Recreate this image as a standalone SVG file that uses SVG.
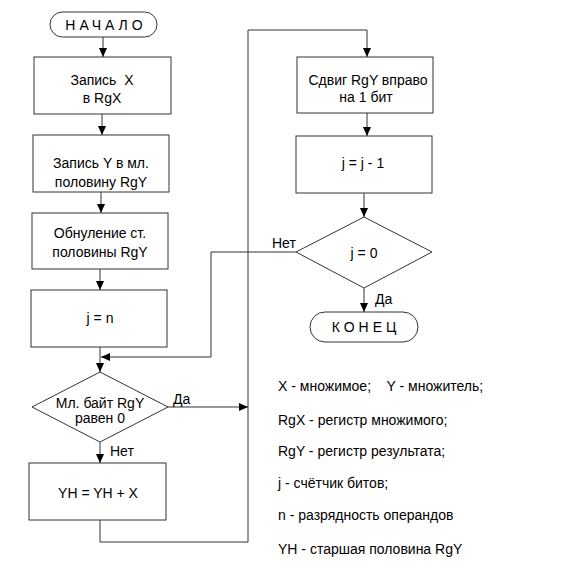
<svg xmlns="http://www.w3.org/2000/svg" width="575" height="579" viewBox="0 0 575 579">
<defs>
<marker id="ah" markerWidth="10" markerHeight="10" refX="9" refY="5" orient="auto" markerUnits="userSpaceOnUse">
<path d="M0,1 L9,5 L0,9 Z" fill="#000"/>
</marker>
<style>
.b{fill:#fff;stroke:#333;stroke-width:1}
.t{font-family:"Liberation Sans",Arial,sans-serif;font-size:14px;fill:#000;text-anchor:middle}
.l{font-family:"Liberation Sans",Arial,sans-serif;font-size:14px;fill:#000}
.sp{letter-spacing:4px}
.c{fill:none;stroke:#333;stroke-width:1}
</style>
</defs>
<rect width="575" height="579" fill="#fff"/>
<g id="connectors">
<path class="c" d="M103,37 V57" marker-end="url(#ah)"/>
<path class="c" d="M102,114 V135" marker-end="url(#ah)"/>
<path class="c" d="M101,192 V213" marker-end="url(#ah)"/>
<path class="c" d="M100,269 V290" marker-end="url(#ah)"/>
<path class="c" d="M100,347 V372" marker-end="url(#ah)"/>
<path class="c" d="M296,252 H211 V357 H101" marker-end="url(#ah)"/>
<path class="c" d="M168,407 H248" marker-end="url(#ah)"/>
<path class="c" d="M100,442 V463" marker-end="url(#ah)"/>
<path class="c" d="M100,520 V542 H248 V30 H367 V57" marker-end="url(#ah)"/>
<path class="c" d="M367,113 V136" marker-end="url(#ah)"/>
<path class="c" d="M364,193 V217" marker-end="url(#ah)"/>
<path class="c" d="M364,288 V312" marker-end="url(#ah)"/>
</g>
<g id="start">
<rect class="b" x="50" y="12" width="107" height="25" rx="12.5"/>
<text class="t sp" x="106" y="30">НАЧАЛО</text>
</g>
<g id="box1">
<rect class="b" x="34" y="57" width="137" height="57"/>
<text class="t" x="102" y="85" xml:space="preserve">Запись  X</text>
<text class="t" x="102" y="103">в RgX</text>
</g>
<g id="box2">
<rect class="b" x="33" y="135" width="136" height="57"/>
<text class="t" x="101" y="168">Запись Y в мл.</text>
<text class="t" x="101" y="187">половину RgY</text>
</g>
<g id="box3">
<rect class="b" x="32" y="213" width="136" height="56"/>
<text class="t" x="100" y="238">Обнуление ст.</text>
<text class="t" x="100" y="257">половины RgY</text>
</g>
<g id="box4">
<rect class="b" x="31" y="290" width="136" height="57"/>
<text class="t" x="100" y="323">j = n</text>
</g>
<g id="dec1">
<polygon class="b" points="100,372 168,407 100,442 32,407"/>
<text class="t" x="100" y="408">Мл. байт RgY</text>
<text class="t" x="100" y="423">равен 0</text>
<text class="l" x="173" y="404">Да</text>
<text class="l" x="110" y="456">Нет</text>
</g>
<g id="box5">
<rect class="b" x="29" y="463" width="137" height="57"/>
<text class="t" x="98" y="498">YH = YH + X</text>
</g>
<g id="box6">
<rect class="b" x="297" y="57" width="136" height="56"/>
<text class="t" x="368" y="85">Сдвиг RgY вправо</text>
<text class="t" x="366" y="102">на 1 бит</text>
</g>
<g id="box7">
<rect class="b" x="296" y="136" width="136" height="57"/>
<text class="t" x="363" y="168">j = j - 1</text>
</g>
<g id="dec2">
<polygon class="b" points="364,217 432,252 364,288 296,252"/>
<text class="t" x="364" y="258">j = 0</text>
<text class="l" x="272" y="248">Нет</text>
<text class="l" x="375" y="304">Да</text>
</g>
<g id="end">
<rect class="b" x="310" y="312" width="108" height="30" rx="15"/>
<text class="t sp" x="366" y="332">КОНЕЦ</text>
</g>
<g id="legend">
<text class="l" x="278" y="391" xml:space="preserve">X - множимое;    Y - множитель;</text>
<text class="l" x="278" y="425">RgX - регистр множимого;</text>
<text class="l" x="278" y="456">RgY - регистр результата;</text>
<text class="l" x="278" y="488">j - счётчик битов;</text>
<text class="l" x="278" y="520">n - разрядность операндов</text>
<text class="l" x="278" y="554">YH - старшая половина RgY</text>
</g>
</svg>
